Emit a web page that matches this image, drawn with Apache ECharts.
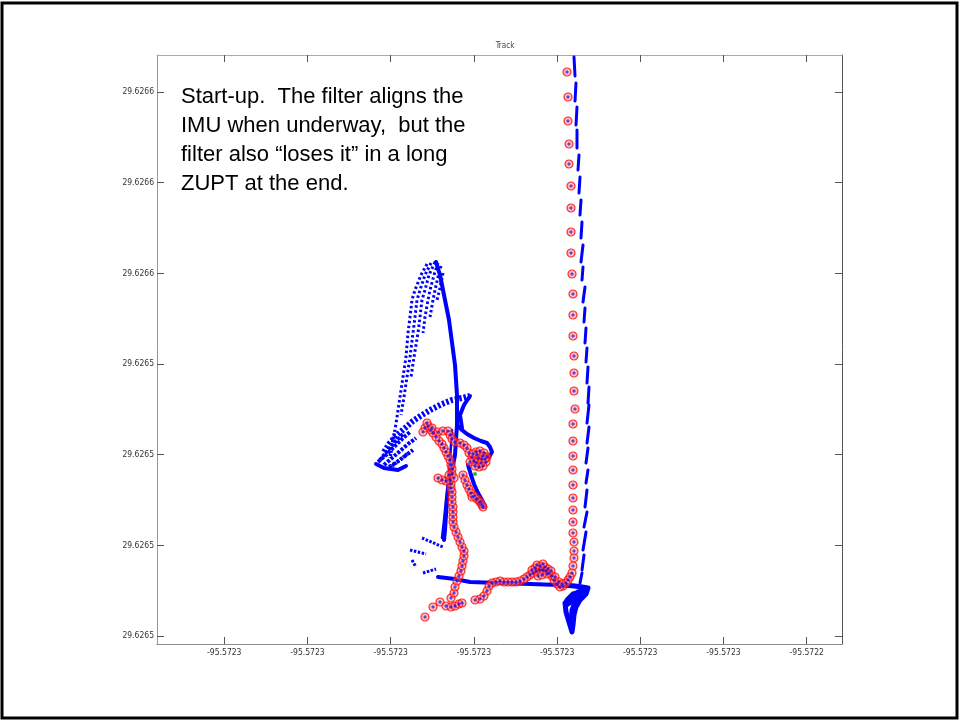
<!DOCTYPE html>
<html>
<head>
<meta charset="utf-8">
<script src="https://cdn.jsdelivr.net/npm/echarts@6/dist/echarts.min.js"></script>
<style>html,body{margin:0;padding:0;background:#fff;}#chart{width:960px;height:721px;}</style>
</head>
<body>
<div id="chart"></div>
<script>
// Local plot frame (units east / north of the lower-left axis corner)
const xTickValues = [67.3, 150.5, 233.7, 316.9, 400.1, 483.3, 566.5, 649.7];
const xTickLabels = ['-95.5723','-95.5723','-95.5723','-95.5723','-95.5723','-95.5723','-95.5723','-95.5722'];
const yTickValues = [8, 98.7, 189.3, 280, 370.7, 461.3, 552];
const yTickLabels = ['29.6265','29.6265','29.6265','29.6265','29.6266','29.6266','29.6266'];
const titleText = 'Track';
const noteLines = [
  'Start-up.  The filter aligns the',
  'IMU when underway,  but the',
  'filter also \u201closes it\u201d in a long',
  'ZUPT at the end.'
];

// GPS fixes (red circles)
const gpsNorthColumn = [[410,572],[411,547],[411,523],[412,500],[412,480],[414,458],[414,436],[414,412],[414,391],[415,370],[416,350],[416,329],[416,308],[417,288],[417,271],[417,253],[418,235],[416,220],[416,203],[416,188],[416,174],[416,159],[416,146],[416,134],[416,122],[416,111],[417,102],[417,93],[417,86],[416,78],[415,71]];
const gpsBottomRun = [[413,67],[411,64],[409,61],[406,58],[403,57],[400,60],[397,64],[395,68],[392,71],[389,73],[386,74],[383,74],[379,73],[376,71],[373,69],[370,67],[367,65],[363,63],[359,62],[355,62],[351,62],[347,62],[343,63],[339,62],[335,61],[332,58],[330,53],[327,48],[323,45],[318,44],[378,76],[381,68],[385,69],[388,77],[391,75],[383,78],[380,79],[386,80],[390,70],[394,73],[398,67],[402,62],[405,60],[375,74]];
const gpsStart = [[268,27],[276,37],[283,42],[289,38],[294,37],[298,38],[302,40],[305,41],[294,46],[297,51]];
const gpsWander = [[298,57],[300,63],[302,68],[304,73],[305,78],[306,83],[307,88],[307,93],[305,97],[303,102],[301,107],[299,112],[297,117],[296,122],[296,127],[296,132],[296,137],[295,142],[295,147],[295,152],[294,156],[294,160],[293,164],[289,163],[285,164],[281,166],[295,170],[295,175],[294,179],[293,184],[291,188],[289,192],[287,196],[285,200],[282,203],[279,207],[276,211],[274,214],[271,218],[268,216],[266,212],[270,221],[275,216],[281,212],[286,213],[291,213],[293,209],[295,205],[298,202],[303,201],[307,199],[310,196],[312,191],[315,187],[319,192],[323,193],[327,191],[330,187],[329,182],[326,178],[322,177],[319,181],[321,186],[325,185],[317,183],[313,182],[324,181],[320,189],[326,188],[328,185],[316,190],[318,178],[306,169],[308,164],[310,159],[312,155],[314,151],[317,148],[320,145],[323,142],[325,139],[326,137],[315,147],[292,169],[297,166]];
const markerPoint = [[318,170]];

// Filter track (blue)
const trackTrunk = [[279,382],[283,369],[286,354],[289,339],[292,324],[294,309],[296,294],[298,279],[299,264],[300,249],[300,234],[300,219],[299,204],[298,189],[295,174],[292,159],[290,144],[289,129],[288,114],[287,104]];
const trackTrunk2 = [[295,214],[293,184],[290,154],[287,124],[285,106]];
const trackHook = [[300,219],[305,214],[310,210],[317,206],[324,203],[330,201],[333,197],[335,192],[332,187]];
const trackSpike = [[313,248],[307,239],[303,229],[305,216]];
const trackBranch = [[311,179],[314,169],[317,160],[321,151],[325,144],[328,137],[324,138],[319,145]];
const trackBottom = [[281,67],[298,65],[313,62],[343,61],[373,60],[403,59],[428,57]];
const trackZupt = [[405,59],[418,58],[431,56],[429,50],[423,44],[419,37],[417,29],[416,19],[415,12],[412,22],[409,32],[408,41],[413,46],[421,52],[428,54]];
const trackZupt2 = [[411,40],[417,44],[421,48],[415,34],[414,19]];
const trackZupt3 = [[410,44],[416,50],[424,52],[418,40],[416,26]];
const trackArc = [[227,192],[233,201],[240,209],[248,216],[256,223],[265,229],[275,235],[285,240],[295,244],[305,246],[313,248]];
const trackTip = [[219,180],[227,176],[241,174],[249,178]];
const hatch1 = [[221,182],[229,189],[237,197],[245,205],[253,212]];
const hatch2 = [[227,179],[235,186],[243,193],[251,200],[259,206]];
const hatch3 = [[235,178],[243,184],[251,191]];
const hatch4 = [[238,214],[235,199],[233,186]];
const hatch5 = [[223,184],[231,194],[239,203],[247,211]];
const hatch6 = [[232,177],[240,182],[248,188],[256,194]];
const fanS1 = [[270,380],[264,369],[258,354],[255,344],[253,327],[251,311],[249,287],[246,267],[243,247],[240,227],[238,214]];
const fanS2 = [[274,381],[268,369],[263,354],[260,344],[258,327],[256,311],[253,287],[250,267],[247,247],[244,229]];
const fanS3 = [[278,382],[272,369],[268,354],[265,344],[263,327],[261,311],[257,287],[254,267]];
const fanS4 = [[281,381],[277,369],[273,354],[271,344],[268,327],[266,311]];
const fanS5 = [[284,378],[281,367],[278,354],[276,344],[273,327]];
const fanS6 = [[286,371],[283,356],[280,344]];
const frag1 = [[265,106],[286,97]];
const frag2 = [[253,94],[269,90]];
const frag3 = [[255,84],[259,77]];
const frag4 = [[266,71],[279,75]];
const columnDashes = [
  [[417,587],[418,568]],[[419,561],[418,543]],[[420,537],[419,519]],[[420,514],[420,496]],
  [[422,489],[421,474]],[[423,467],[422,451]],[[424,444],[423,429]],[[425,422],[424,406]],
  [[426,399],[424,382]],[[426,377],[425,364]],[[428,357],[426,342]],[[428,336],[427,322]],
  [[429,316],[428,301]],[[430,296],[429,282]],[[431,277],[430,261]],[[432,257],[431,241]],
  [[432,239],[430,221]],[[432,217],[430,201]],[[431,196],[429,181]],[[431,174],[429,161]],
  [[430,154],[428,137]],[[430,132],[427,117]],[[429,112],[426,94]],[[427,89],[425,74]],
  [[425,71],[423,61]]
];

const BLUE = '#0000ff';
const gpsAll = gpsNorthColumn.concat(gpsBottomRun, gpsStart, gpsWander);
const plusPath = 'path://M4,0L4,8M0,4L8,4';
const lab = (vals, labels) => (v) => {
  let best = 0, d = Infinity;
  vals.forEach((t, i) => { const e = Math.abs(t - v); if (e < d) { d = e; best = i; } });
  return labels[best];
};

function linesSeries(polys, width, type, z) {
  return {
    type: 'lines', coordinateSystem: 'cartesian2d', polyline: true, silent: true,
    xAxisIndex: 0, yAxisIndex: 0, z: z || 2,
    lineStyle: { color: BLUE, width: width, opacity: 1, type: type || 'solid', cap: type ? 'butt' : 'round', join: 'round' },
    data: polys.map(c => ({ coords: c }))
  };
}

const NARROW = '"Liberation Sans Narrow", "DejaVu Sans Condensed", "Liberation Sans", Arial, sans-serif';
const labelFont = { fontSize: 8.5, fontFamily: NARROW, color: '#333' };
const axLine = (c) => ({ show: true, onZero: false, lineStyle: { color: c, width: 1 } });

const option = {
  animation: false,
  backgroundColor: '#fff',
  title: { text: titleText, left: 500, top: 37, textAlign: 'center',
    textStyle: { fontSize: 8, fontWeight: 'normal', fontFamily: NARROW, color: '#444' } },
  grid: { left: 157, right: 118, top: 55, bottom: 77, show: false },
  xAxis: [
    { type: 'value', position: 'bottom', min: 0, max: 685, axisLine: axLine('#8a8a8a'),
      axisTick: { show: true, inside: true, length: 7, customValues: xTickValues, lineStyle: { color: '#555' } },
      axisLabel: Object.assign({ customValues: xTickValues, formatter: lab(xTickValues, xTickLabels), margin: 4 }, labelFont),
      splitLine: { show: false } },
    { type: 'value', position: 'top', min: 0, max: 685, axisLine: axLine('#aaaaaa'),
      axisTick: { show: true, inside: true, length: 7, customValues: xTickValues, lineStyle: { color: '#555' } },
      axisLabel: { show: false }, splitLine: { show: false } }
  ],
  yAxis: [
    { type: 'value', position: 'left', min: 0, max: 589, axisLine: axLine('#999999'),
      axisTick: { show: true, inside: true, length: 7, customValues: yTickValues, lineStyle: { color: '#555' } },
      axisLabel: Object.assign({ customValues: yTickValues, formatter: lab(yTickValues, yTickLabels), margin: 3 }, labelFont),
      splitLine: { show: false } },
    { type: 'value', position: 'right', min: 0, max: 589, axisLine: axLine('#555555'),
      axisTick: { show: true, inside: true, length: 7, customValues: yTickValues, lineStyle: { color: '#555' } },
      axisLabel: { show: false }, splitLine: { show: false } }
  ],
  graphic: [
    { type: 'rect', shape: { x: 2, y: 3, width: 955, height: 715 }, style: { fill: 'none', stroke: '#000', lineWidth: 3 }, z: 100, silent: true }
  ].concat(noteLines.map((t, i) => ({
    type: 'text', x: 181, y: 97.4 + i * 29, z: 100, silent: true,
    style: { text: t, font: '22px "Liberation Sans", Arial, sans-serif', fill: '#000', verticalAlign: 'middle', align: 'left' }
  }))),
  series: [
    linesSeries([trackTrunk, trackHook, trackSpike, trackBranch, trackBottom, trackTip], 4),
    linesSeries([trackZupt, trackZupt2, trackZupt3], 5),
    linesSeries([trackTrunk2], 2.5),
    linesSeries(columnDashes, 3),
    linesSeries([trackArc], 6, [2.5, 2]),
    linesSeries([hatch1, hatch2, hatch5, hatch6], 4, [3, 1.5]),
    linesSeries([hatch3, hatch4], 3.5, [2, 1.5]),
    linesSeries([fanS1, fanS2, fanS3, fanS4, fanS5, fanS6], 3, [2.5, 2.5]),
    linesSeries([frag1, frag2, frag3, frag4], 3, [2.5, 1.5]),
    { type: 'scatter', xAxisIndex: 0, yAxisIndex: 0, z: 5, silent: true, data: gpsAll, symbol: 'circle', symbolSize: 8,
      itemStyle: { color: 'rgba(255,120,120,0.6)', borderColor: '#ff0000', borderWidth: 1.2 } },
    { type: 'scatter', xAxisIndex: 0, yAxisIndex: 0, z: 6, silent: true, data: gpsAll, symbol: plusPath, symbolSize: 3.5,
      itemStyle: { color: 'transparent', borderColor: BLUE, borderWidth: 1 } },
    { type: 'scatter', xAxisIndex: 0, yAxisIndex: 0, z: 7, silent: true, data: markerPoint, symbol: 'circle', symbolSize: 4,
      itemStyle: { color: '#00a000' } }
  ]
};

const chart = echarts.init(document.getElementById('chart'), null, { renderer: 'canvas' });
chart.setOption(option);
</script>
</body>
</html>
